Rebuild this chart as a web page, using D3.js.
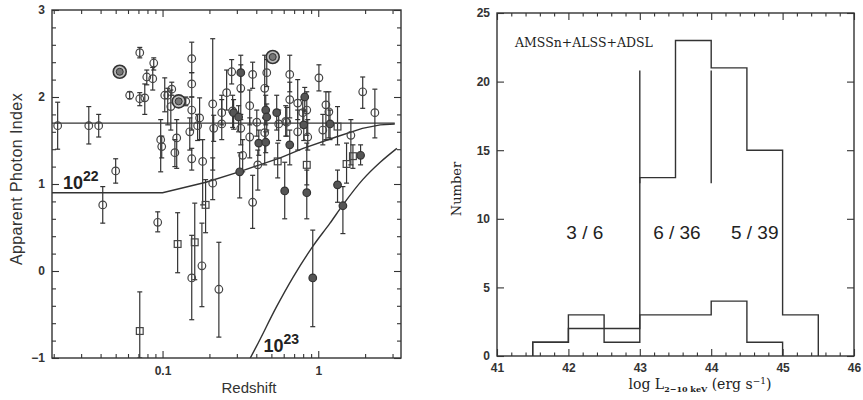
<!DOCTYPE html>
<html>
<head>
<meta charset="utf-8">
<script src="https://cdn.jsdelivr.net/npm/d3@7"></script>
<style>
  body { margin: 0; background: #fff; }
  svg { display: block; }
  .tk text { font-family: "Liberation Sans", Arial, sans-serif; font-weight: bold; font-size: 12px; fill: #333; }
  .tk line { stroke: #333; stroke-width: 1.1; }
</style>
</head>
<body>
<svg width="863" height="400"></svg>
<script>
// ---- left panel: redshift vs apparent photon index  [z, index, lo, hi]
var openPts = [
  [0.0212, 1.67, 1.40, 1.94], [0.0336, 1.67, 1.46, 1.89], [0.0389, 1.67, 1.54, 1.80],
  [0.0413, 0.76, 0.55, 0.97], [0.0500, 1.15, 1.01, 1.29], [0.0615, 2.02, 1.98, 2.06],
  [0.0714, 2.51, 2.45, 2.57], [0.0714, 1.98, 1.90, 2.05], [0.0769, 1.99, 1.80, 2.15],
  [0.0792, 2.23, 2.14, 2.31], [0.0865, 2.21, 2.08, 2.34], [0.0878, 2.39, 2.31, 2.45],
  [0.0931, 0.56, 0.45, 0.68], [0.0973, 1.51, 1.14, 1.74], [0.0988, 1.43, 1.30, 1.55],
  [0.1033, 2.02, 1.83, 2.22], [0.108, 2.02, 1.68, 2.10], [0.1146, 2.09, 2.02, 2.17],
  [0.113, 1.89, 1.62, 2.08], [0.120, 1.36, 1.20, 1.51], [0.1233, 1.53, 1.18, 1.74],
  [0.141, 1.95, 1.90, 2.00], [0.154, 2.44, 2.28, 2.63], [0.154, 2.15, 2.00, 2.28],
  [0.154, 1.85, 1.62, 2.00], [0.1496, 1.60, 1.39, 1.76], [0.154, 1.29, 1.16, 1.41],
  [0.173, 1.76, 1.51, 1.99], [0.168, 1.67, 1.50, 1.80], [0.181, 1.26, 0.76, 1.51],
  [0.154, -0.08, -0.56, 0.41], [0.179, 0.06, -0.41, 0.55], [0.230, -0.21, -0.76, 0.33],
  [0.210, 1.01, 0.82, 1.30], [0.210, 1.92, 1.16, 2.67], [0.213, 1.64, 1.49, 1.79],
  [0.240, 1.82, 1.68, 2.02], [0.240, 1.69, 1.51, 1.97], [0.258, 2.05, 1.85, 2.31],
  [0.278, 2.29, 2.15, 2.43], [0.282, 1.84, 1.65, 2.02], [0.318, 2.10, 1.74, 2.37],
  [0.318, 1.64, 1.45, 1.80], [0.327, 1.33, 1.14, 1.51], [0.379, 0.79, 0.49, 1.10],
  [0.363, 1.54, 1.30, 1.76], [0.379, 2.26, 2.10, 2.40], [0.363, 1.90, 1.68, 2.08],
  [0.403, 1.71, 1.55, 1.85], [0.409, 1.22, 0.93, 1.39], [0.453, 2.10, 1.76, 2.48],
  [0.467, 2.28, 2.12, 2.43], [0.453, 1.59, 1.22, 1.76], [0.557, 1.69, 1.50, 1.85],
  [0.618, 1.72, 1.55, 1.90], [0.656, 2.26, 2.06, 2.48], [0.656, 1.97, 1.76, 2.17],
  [0.628, 1.71, 1.55, 1.88], [0.738, 1.93, 1.74, 2.20], [0.738, 1.60, 1.39, 1.85],
  [0.844, 1.85, 1.56, 2.06], [0.795, 1.82, 1.65, 1.97], [0.856, 1.54, 1.39, 1.74],
  [1.01, 2.22, 2.07, 2.37], [1.12, 1.91, 1.51, 2.06], [1.17, 1.83, 1.53, 2.06],
  [1.07, 1.62, 1.45, 1.80], [1.62, 1.56, 1.22, 1.74], [1.93, 2.06, 1.87, 2.23],
  [2.31, 1.82, 1.53, 2.09]
];
var filledPts = [
  [0.286, 1.82, 1.63, 1.97], [0.318, 2.28, 2.06, 2.48], [0.308, 1.77, 1.60, 1.90],
  [0.313, 1.14, 0.84, 1.36], [0.415, 1.47, 1.33, 1.62], [0.460, 1.85, 1.68, 2.02],
  [0.467, 1.77, 1.62, 1.92], [0.460, 1.48, 1.36, 1.60], [0.541, 1.82, 1.62, 2.02],
  [0.656, 1.45, 1.22, 1.62], [0.609, 0.92, 0.60, 1.25], [0.819, 2.00, 1.83, 2.11],
  [0.807, 1.68, 1.50, 1.85], [0.844, 0.90, 0.60, 1.16], [0.922, -0.08, -0.64, 0.47],
  [1.19, 1.69, 1.51, 1.85], [1.33, 0.99, 0.79, 1.16], [1.44, 0.75, 0.43, 0.97],
  [1.87, 1.33, 1.22, 1.45]
];
var squarePts = [
  [0.0714, -0.69, -1.00, -0.24], [0.189, 0.76, 0.44, 1.05], [0.161, 0.33, -0.10, 0.78],
  [0.125, 0.31, -0.02, 0.67], [0.549, 1.26, 1.07, 1.47], [0.844, 1.22, 0.99, 1.47],
  [1.33, 1.66, 1.45, 1.89], [1.52, 1.23, 1.01, 1.47], [1.67, 1.32, 1.18, 1.45]
];
var ringPts = [[0.0531, 2.29], [0.127, 1.95], [0.510, 2.46]];

// model curves
var flatZ = [0.0195, 3.1], flatG = [1.7, 1.7];
var nh22Z = [0.0195, 0.1, 0.19, 0.31, 0.42, 0.57, 0.80, 1.30, 1.92, 2.5, 3.1];
var nh22G = [0.90, 0.90, 1.02, 1.14, 1.22, 1.30, 1.41, 1.54, 1.64, 1.68, 1.69];
var nh23Z = [0.366, 0.40, 0.54, 0.69, 0.92, 1.19, 1.44, 1.93, 2.5, 3.2];
var nh23G = [-1.0, -0.87, -0.41, -0.07, 0.28, 0.55, 0.76, 1.05, 1.25, 1.41];

// ---- right panel: luminosity histogram
var binEdges = [41.5, 42, 42.5, 43, 43.5, 44, 44.5, 45, 45.5];
var allCounts = [1, 3, 1, 13, 23, 21, 15, 3];
var absCounts = [1, 2, 2, 3, 3, 4, 1];
var dividers = [43, 44];
var ratioLabels = ["3 / 6", "6 / 36", "5 / 39"];
var ratioPos = [42.23, 43.52, 44.61];

var ink = "#333";
var svg = d3.select("svg");

function frameAxes(g, xs, ys, xMajor, xMinor, yMajor, yMinor, xFmt, yFmt, maj, mnr, padX, padY) {
  var x0 = xs.range()[0], x1 = xs.range()[1], y0 = ys.range()[0], y1 = ys.range()[1];
  g.append("rect").attr("x", x0).attr("y", y1).attr("width", x1 - x0).attr("height", y0 - y1)
    .attr("fill", "none").attr("stroke", ink).attr("stroke-width", 1.4);
  [[d3.axisBottom, y0, xFmt, padX], [d3.axisTop, y1, null, 0]].forEach(function(a) {
    var ax = g.append("g").attr("class", "tk").attr("transform", "translate(0," + a[1] + ")");
    ax.call(a[0](xs).tickValues(xMajor).tickSize(-maj).tickPadding(a[3]).tickFormat(a[2] || ""));
    ax.select(".domain").remove();
    var ax2 = g.append("g").attr("class", "tk").attr("transform", "translate(0," + a[1] + ")");
    ax2.call(a[0](xs).tickValues(xMinor).tickSize(-mnr).tickFormat(""));
    ax2.select(".domain").remove();
  });
  [[d3.axisLeft, x0, yFmt, padY], [d3.axisRight, x1, null, 0]].forEach(function(a) {
    var ax = g.append("g").attr("class", "tk").attr("transform", "translate(" + a[1] + ",0)");
    ax.call(a[0](ys).tickValues(yMajor).tickSize(-maj).tickPadding(a[3]).tickFormat(a[2] || ""));
    ax.select(".domain").remove();
    if (yMinor.length) {
      var ax2 = g.append("g").attr("class", "tk").attr("transform", "translate(" + a[1] + ",0)");
      ax2.call(a[0](ys).tickValues(yMinor).tickSize(-mnr).tickFormat(""));
      ax2.select(".domain").remove();
    }
  });
}

// ================= left panel =================
var x = d3.scaleLog().domain([0.0195, 3.4]).range([52, 401]);
var y = d3.scaleLinear().domain([-1, 3]).range([358, 10]);
var left = svg.append("g");

var xMaj = [0.1, 1];
var xMin = x.ticks().filter(function(t) { return xMaj.indexOf(t) < 0; });
var yMin = d3.range(-1, 3.001, 0.2).map(function(v) { return +v.toFixed(1); })
  .filter(function(v) { return Math.abs(v - Math.round(v)) > 0.01; });
frameAxes(left, x, y, xMaj, xMin, [-1, 0, 1, 2, 3], yMin,
  function(d) { return d === 0.1 ? "0.1" : "1"; },
  function(d) { return d < 0 ? "\u22121" : String(d); }, 7, 4, 8, 7);

left.append("clipPath").attr("id", "lclip").append("rect")
  .attr("x", 52).attr("y", 10).attr("width", 349).attr("height", 348);
var plot = left.append("g").attr("clip-path", "url(#lclip)");

var line = d3.line().x(function(d) { return x(d[0]); }).y(function(d) { return y(d[1]); });
function zip(a, b) { return a.map(function(v, i) { return [v, b[i]]; }); }
plot.append("path").attr("d", line(zip(flatZ, flatG)))
  .attr("fill", "none").attr("stroke", ink).attr("stroke-width", 1.4);
plot.append("path").attr("d", line(zip(nh22Z, nh22G)))
  .attr("fill", "none").attr("stroke", ink).attr("stroke-width", 1.4);
plot.append("path").attr("d", line.curve(d3.curveMonotoneX)(zip(nh23Z, nh23G)))
  .attr("fill", "none").attr("stroke", ink).attr("stroke-width", 1.4);

function errBars(pts) {
  var g = plot.append("g").attr("stroke", ink).attr("stroke-width", 1.2);
  pts.forEach(function(d) {
    var cx = x(d[0]);
    g.append("line").attr("x1", cx).attr("x2", cx).attr("y1", y(d[2])).attr("y2", y(d[3]));
    [d[2], d[3]].forEach(function(v) {
      g.append("line").attr("x1", cx - 2.5).attr("x2", cx + 2.5).attr("y1", y(v)).attr("y2", y(v));
    });
  });
}
errBars(openPts); errBars(filledPts); errBars(squarePts);

plot.append("g").selectAll("circle").data(openPts).enter().append("circle")
  .attr("cx", function(d) { return x(d[0]); }).attr("cy", function(d) { return y(d[1]); })
  .attr("r", 3.8).attr("fill", "none").attr("stroke", "#444").attr("stroke-width", 1.2);
plot.append("g").selectAll("circle").data(filledPts).enter().append("circle")
  .attr("cx", function(d) { return x(d[0]); }).attr("cy", function(d) { return y(d[1]); })
  .attr("r", 3.8).attr("fill", "#555").attr("stroke", ink).attr("stroke-width", 1.2);
plot.append("g").selectAll("rect").data(squarePts).enter().append("rect")
  .attr("x", function(d) { return x(d[0]) - 3.4; }).attr("y", function(d) { return y(d[1]) - 3.4; })
  .attr("width", 6.8).attr("height", 6.8).attr("fill", "none").attr("stroke", "#444").attr("stroke-width", 1.2);
var rings = plot.append("g").selectAll("g").data(ringPts).enter().append("g")
  .attr("transform", function(d) { return "translate(" + x(d[0]) + "," + y(d[1]) + ")"; });
rings.append("circle").attr("r", 6.5).attr("fill", "#bbb").attr("stroke", ink).attr("stroke-width", 1.6);
rings.append("circle").attr("r", 3.5).attr("fill", "#777").attr("stroke", ink).attr("stroke-width", 1);

// NH labels
function nhLabel(tx, ty, sup) {
  var t = left.append("text").attr("x", tx).attr("y", ty)
    .attr("font-family", "Liberation Sans, Arial, sans-serif").attr("font-weight", "bold")
    .attr("font-size", 18).attr("fill", "#222");
  t.append("tspan").text("10");
  t.append("tspan").attr("dy", -8).attr("font-size", 14).text(sup);
}
nhLabel(x(0.0213) + 5, y(0.945), "22");
nhLabel(x(0.445), y(-0.93), "23");

left.append("text").attr("transform", "translate(22,179) rotate(-90)").attr("text-anchor", "middle")
  .attr("font-family", "Liberation Sans, Arial, sans-serif").attr("font-size", 16).attr("fill", ink)
  .attr("letter-spacing", 0.4).text("Apparent Photon Index");
left.append("text").attr("x", 249).attr("y", 393).attr("text-anchor", "middle")
  .attr("font-family", "Liberation Sans, Arial, sans-serif").attr("font-size", 15).attr("fill", ink)
  .text("Redshift");

// ================= right panel =================
var hx = d3.scaleLinear().domain([41, 46]).range([497, 854]);
var hy = d3.scaleLinear().domain([0, 25]).range([356, 13]);
var right = svg.append("g");
frameAxes(right, hx, hy, d3.range(41, 47), d3.range(41, 46.01, 0.2).filter(function(v) {
  return Math.abs(v - Math.round(v)) > 0.01; }), [0, 5, 10, 15, 20, 25], [],
  function(d) { return String(d); }, function(d) { return String(d); }, 7, 3.5, 7, 7);

var step = d3.line().x(function(d) { return hx(d[0]); }).y(function(d) { return hy(d[1]); })
  .curve(d3.curveStepAfter);
function stepPts(counts) {
  var p = [[binEdges[0], 0]];
  counts.forEach(function(c, i) { p.push([binEdges[i], c]); });
  p.push([binEdges[counts.length], 0]);
  return p;
}
right.append("path").attr("d", step(stepPts(allCounts)))
  .attr("fill", "none").attr("stroke", ink).attr("stroke-width", 1.4);
right.append("path").attr("d", step(stepPts(absCounts)))
  .attr("fill", "none").attr("stroke", ink).attr("stroke-width", 1.4);
right.selectAll(".div").data(dividers).enter().append("line")
  .attr("x1", function(d) { return hx(d); }).attr("x2", function(d) { return hx(d); })
  .attr("y1", hy(20.8)).attr("y2", hy(12.6)).attr("stroke", ink).attr("stroke-width", 1.4);

right.selectAll(".ratio").data(ratioLabels).enter().append("text")
  .attr("x", function(d, i) { return hx(ratioPos[i]); }).attr("y", hy(8.5))
  .attr("text-anchor", "middle").attr("font-family", "Liberation Sans, Arial, sans-serif")
  .attr("font-size", 19).attr("fill", "#222").text(function(d) { return d; });

right.append("text").attr("x", 515).attr("y", 47)
  .attr("font-family", "DejaVu Serif, serif").attr("font-size", 12.5).attr("fill", "#222")
  .text("AMSSn+ALSS+ADSL");

right.append("text").attr("transform", "translate(461,189) rotate(-90)").attr("text-anchor", "middle")
  .attr("font-family", "DejaVu Serif, serif").attr("font-size", 13).attr("fill", "#222")
  .text("Number");

var xl = right.append("text").attr("x", 700).attr("y", 389).attr("text-anchor", "middle")
  .attr("font-family", "DejaVu Serif, serif").attr("font-size", 14).attr("fill", "#222");
xl.append("tspan").text("log L");
xl.append("tspan").attr("dy", 3).attr("font-size", 8).attr("font-weight", "bold").text("2\u221210 keV");
xl.append("tspan").attr("dy", -3).text(" (erg s");
xl.append("tspan").attr("dy", -5).attr("font-size", 9).text("\u22121");
xl.append("tspan").attr("dy", 5).text(")");
</script>
</body>
</html>
